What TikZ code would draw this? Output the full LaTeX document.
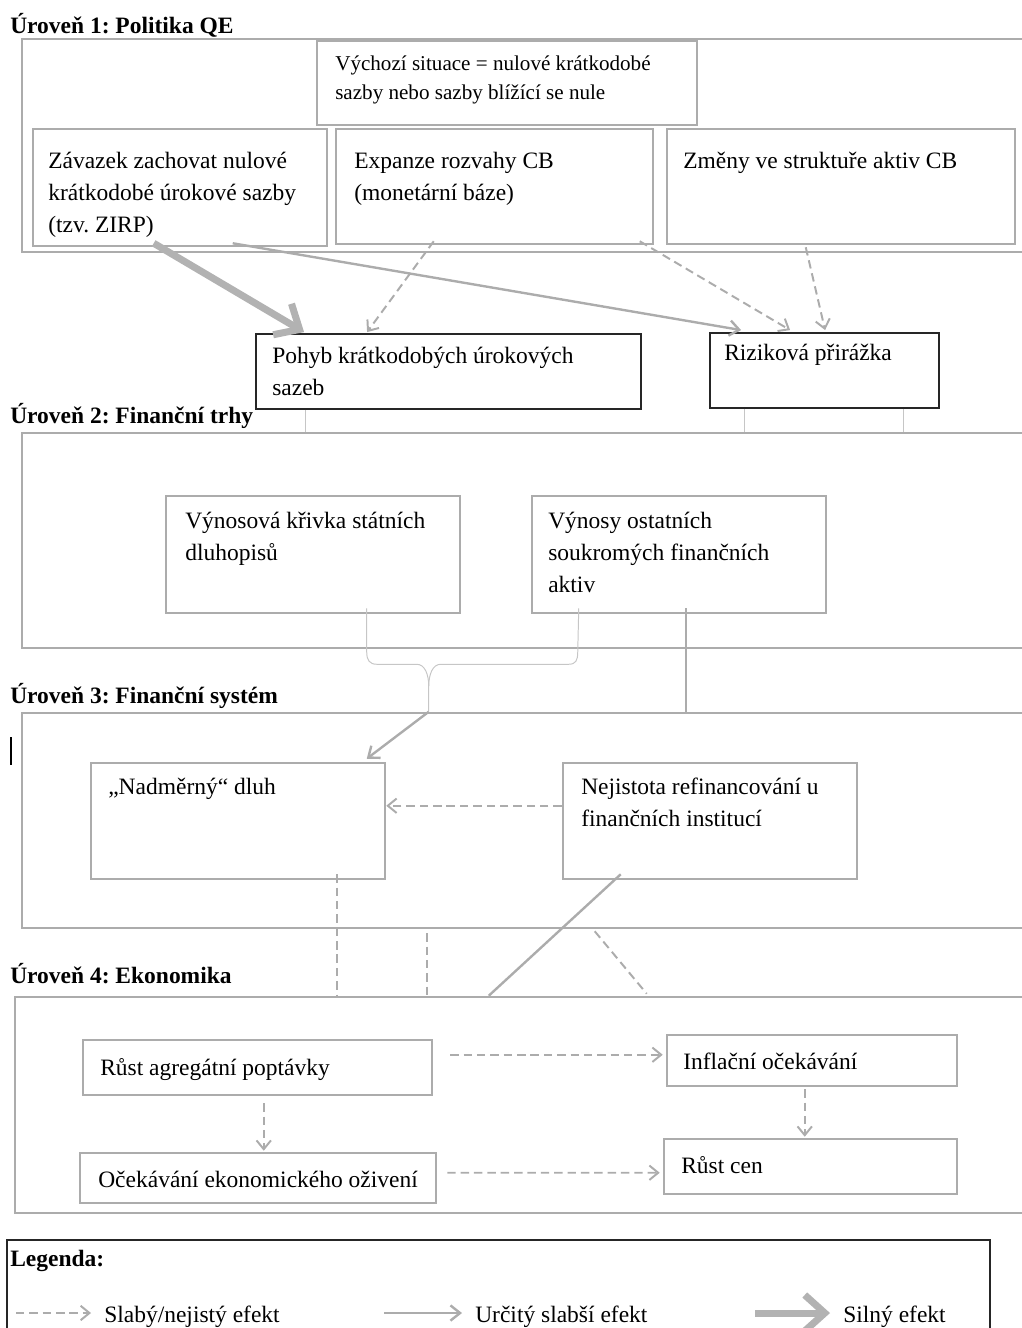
\documentclass[tikz,border=0pt]{standalone}
\usepackage{fontspec}
\setmainfont{Liberation Serif}
\usetikzlibrary{arrows.meta,fit}
\frenchspacing

\tikzset{
  level/.style={draw=gray!65, line width=1.8pt, inner sep=0pt},
  box/.style={draw=gray!65, line width=1.8pt, fill=white, inner sep=0pt},
  outbox/.style={draw=black!85, line width=1.3pt, fill=white, inner sep=0pt},
  txt/.style={anchor=base west, align=flush left, text width=9.5cm, inner sep=0pt},
  title/.style={anchor=base west, inner sep=0pt, font=\fontsize{16.7}{23}\selectfont\bfseries},
  plain/.style={draw=gray!65, line width=1.7pt},
  mid/.style={plain, -{Straight Barb[length=2.4mm, width=3.8mm]}},
  weakline/.style={draw=gray!65, line width=1.4pt, dash pattern=on 6pt off 3.5pt},
  weak/.style={weakline, -{Straight Barb[length=2.2mm, width=3.6mm]}},
  strong/.style={draw=gray!60, line width=5pt, -{Straight Barb[length=5mm, width=9mm]}},
  thinline/.style={draw=gray!45, line width=0.7pt},
}

\begin{document}
\begin{tikzpicture}[x=0.025cm, y=-0.025cm, every node/.style={font=\fontsize{16.7}{23}\selectfont}]
  \useasboundingbox (0,0) rectangle (1021,1328);

  % Úroveň 1
  \node[title] (t1) at (10,33) {Úroveň 1: Politika QE};
  \node[level, fit={(22,39) (1040,252)}] (lev1) {};
  \node[box, fit={(317,41) (697,125)}] (vych) {};
  \node[box, fit={(33,129) (327,246)}] (zav) {};
  \node[box, fit={(336,129) (653,244)}] (expan) {};
  \node[box, fit={(667,129) (1015,244)}] (zmen) {};
  \node[txt, font=\fontsize{15}{21}\selectfont] (vych-t) at (335,70) {Výchozí situace = nulové krátkodobé\\sazby nebo sazby blížící se nule};
  \node[txt] (zav-t) at (48,168) {Závazek zachovat nulové\\krátkodobé úrokové sazby\\(tzv. ZIRP)};
  \node[txt] (expan-t) at (354,168) {Expanze rozvahy CB\\(monetární báze)};
  \node[txt] (zmen-t) at (683,168) {Změny ve struktuře aktiv CB};

  % výstupy úrovně 1
  \node[outbox, fit={(256,334) (641,409)}] (pohyb) {};
  \node[outbox, fit={(710,333) (939,408)}] (riz) {};
  \node[txt] (pohyb-t) at (272,363) {Pohyb krátkodobých úrokových\\sazeb};
  \node[txt] (riz-t) at (724,360) {Riziková přirážka};

  % Úroveň 2
  \node[title] (t2) at (10,423) {Úroveň 2: Finanční trhy};
  \node[level, fit={(22,433) (1040,648)}] (lev2) {};
  \node[box, fit={(166,496) (460,613)}] (vynk) {};
  \node[box, fit={(532,496) (826,613)}] (vyno) {};
  \node[txt] (vynk-t) at (185,528) {Výnosová křivka státních\\dluhopisů};
  \node[txt] (vyno-t) at (548,528) {Výnosy ostatních\\soukromých finančních\\aktiv};

  % Úroveň 3
  \node[title] (t3) at (10,703) {Úroveň 3: Finanční systém};
  \node[level, fit={(22,713) (1040,928)}] (lev3) {};
  \node[box, fit={(91,763) (385,879)}] (dluh) {};
  \node[box, fit={(563,763) (857,879)}] (nejist) {};
  \node[txt] (dluh-t) at (108,794) {„Nadměrný“ dluh};
  \node[txt] (nejist-t) at (581,794) {Nejistota refinancování u\\finančních institucí};
  \draw[black, line width=0.8pt] (11,737) -- (11,765);

  % Úroveň 4
  \node[title] (t4) at (10,983) {Úroveň 4: Ekonomika};
  \node[level, fit={(15,997) (1040,1213)}] (lev4) {};
  \node[box, fit={(83,1040) (432,1095)}] (rust) {};
  \node[box, fit={(667,1035) (957,1086)}] (infl) {};
  \node[box, fit={(80,1153) (436,1203)}] (ocek) {};
  \node[box, fit={(664,1139) (957,1194)}] (ceny) {};
  \node[txt] (rust-t) at (100,1075) {Růst agregátní poptávky};
  \node[txt] (infl-t) at (683,1069) {Inflační očekávání};
  \node[txt] (ocek-t) at (98,1187) {Očekávání ekonomického oživení};
  \node[txt] (ceny-t) at (681,1173) {Růst cen};

  % vazby úroveň 1
  \draw[strong] ([shift={(122,-4)}]zav.south west) -- ([shift={(49,-1)}]pohyb.north west);
  \draw[mid] ([shift={(201,-4)}]zav.south west) -- ([shift={(32,-2)}]riz.north west);
  \draw[weak] ([shift={(99,-4)}]expan.south west) -- ([shift={(112,-1)}]pohyb.north west);
  \draw[weak] ([shift={(305,-4)}]expan.south west) -- ([shift={(81,-2)}]riz.north west);
  \draw[weak] ([shift={(140,2)}]zmen.south west) -- ([shift={(116,-2)}]riz.north west);

  \coordinate (p1) at ([shift={(50,0)}]pohyb.south west);
  \coordinate (r1) at ([shift={(35,0)}]riz.south west);
  \coordinate (r2) at ([shift={(194,0)}]riz.south west);
  \draw[thinline] (p1) -- (p1 |- lev2.north);
  \draw[thinline] (r1) -- (r1 |- lev2.north);
  \draw[thinline] (r2) -- (r2 |- lev2.north);

  % vazby úroveň 2
  \coordinate (brL) at ([shift={(202,-6)}]vynk.south west);
  \coordinate (brR) at ([shift={(48,-6)}]vyno.south west);
  \coordinate (brtip) at ([shift={(408,0)}]lev3.north west);
  \draw[thinline] (brL) -- ++(0,44) .. controls +(0,8) and +(-7,0) .. ++(10,12)
    -- ++(40,0) .. controls +(8,0) and +(0,-12) .. ++(12,22) -- (brtip);
  \draw[thinline] (brR) -- ++(-1,44) .. controls +(0,8) and +(7,0) .. ++(-9,12)
    -- ++(-128,0) .. controls +(-8,0) and +(0,-12) .. ++(-12,22);
  \draw[mid] (brtip) -- ([shift={(277,-3)}]dluh.north west);
  \coordinate (v1) at ([shift={(155,-6)}]vyno.south west);
  \draw[plain] (v1) -- (v1 |- lev3.north);

  % vazby úroveň 3
  \draw[weak] ([shift={(0,44)}]nejist.north west) -- ([shift={(0,44)}]dluh.north east);
  \coordinate (d1) at ([shift={(247,-6)}]dluh.south west);
  \coordinate (d2) at ([shift={(406,4)}]lev3.south west);
  \draw[weakline] (d1) -- (d1 |- lev4.north);
  \draw[weakline] (d2) -- (d2 |- lev4.north);
  \draw[plain] ([shift={(59,-6)}]nejist.south west) -- ([shift={(475,0)}]lev4.north west);
  \draw[weakline] ([shift={(574,2)}]lev3.south west) -- ([shift={(633,-2)}]lev4.north west);

  % vazby úroveň 4
  \draw[weak] ([shift={(17,16)}]rust.north east) -- ([shift={(-3,21)}]infl.north west);
  \draw[weak] ([shift={(10,21)}]ocek.north east) -- ([shift={(-3,35)}]ceny.north west);
  \draw[weak] ([shift={(182,7)}]rust.south west) -- ([shift={(185,-1)}]ocek.north west);
  \draw[weak] ([shift={(139,2)}]infl.south west) -- ([shift={(142,-1)}]ceny.north west);

  % Legenda
  \node[outbox, fit={(7,1240) (990,1345)}] (leg) {};
  \node[title] (leg-t) at (10,1266) {Legenda:};
  \node[txt] (lg-w) at (104,1322) {Slabý/nejistý efekt};
  \node[txt] (lg-m) at (475,1322) {Určitý slabší efekt};
  \node[txt] (lg-s) at (843,1322) {Silný efekt};
  \coordinate (lw) at (16,1313);
  \coordinate (lm) at (384,1313);
  \coordinate (ls) at (755,1313);
  \draw[weak] (lw) -- ([shift={(-13,-9)}]lg-w.base west);
  \draw[mid] (lm) -- ([shift={(-13,-9)}]lg-m.base west);
  \draw[strong] (ls) -- ([shift={(-13,-9)}]lg-s.base west);
\end{tikzpicture}
\end{document}
